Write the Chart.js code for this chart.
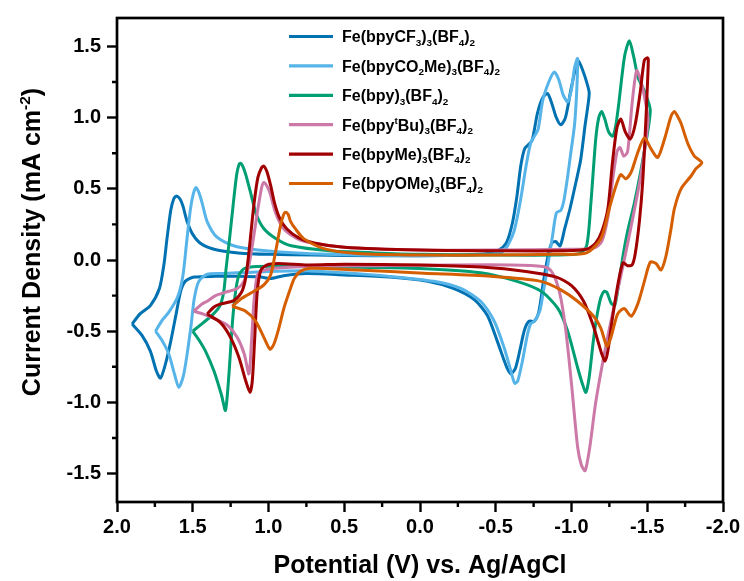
<!DOCTYPE html>
<html>
<head>
<meta charset="utf-8">
<script src="https://cdn.jsdelivr.net/npm/chart.js@4.4.1/dist/chart.umd.min.js"></script>
<style>
  html, body { margin: 0; padding: 0; background: #fff; }
  #wrap { width: 744px; height: 581px; }
</style>
</head>
<body>
<div id="wrap"><canvas id="cv" width="744" height="581"></canvas></div>
<script>
const FONT = '"Liberation Sans", Arial, Helvetica, sans-serif';

// [potential (V vs Ag/AgCl), current density (mA cm-2)]
// each loop: positive vertex -> upper branch to negative vertex -> lower branch back
const cf3 = [
  [1.90,-0.45],[1.85,-0.38],[1.78,-0.32],[1.72,-0.20],[1.69,-0.03],[1.67,0.15],[1.645,0.35],[1.625,0.43],
  [1.608,0.45],[1.585,0.43],[1.565,0.38],[1.54,0.28],[1.50,0.18],[1.44,0.11],[1.34,0.07],[1.20,0.05],
  [1.0,0.04],[0.7,0.035],[0.3,0.03],[0.0,0.03],[-0.3,0.035],[-0.45,0.045],[-0.52,0.07],[-0.57,0.12],
  [-0.61,0.26],[-0.64,0.45],[-0.665,0.66],[-0.69,0.78],[-0.715,0.81],[-0.74,0.84],[-0.775,1.03],
  [-0.81,1.14],[-0.842,1.17],[-0.87,1.10],[-0.90,1.00],[-0.93,0.95],[-0.96,1.00],[-0.995,1.19],
  [-1.025,1.34],[-1.045,1.40],[-1.075,1.33],[-1.10,1.25],[-1.117,1.17],
  [-1.09,0.95],[-1.06,0.70],[-1.03,0.55],[-0.99,0.36],[-0.955,0.22],[-0.925,0.10],[-0.895,0.13],
  [-0.87,0.12],[-0.845,0.03],[-0.815,-0.15],[-0.785,-0.36],[-0.755,-0.43],[-0.72,-0.43],[-0.69,-0.49],
  [-0.66,-0.63],[-0.63,-0.76],[-0.60,-0.80],[-0.575,-0.76],[-0.55,-0.69],[-0.51,-0.57],[-0.445,-0.39],
  [-0.36,-0.28],[-0.22,-0.20],[-0.05,-0.15],[0.2,-0.12],[0.5,-0.105],[0.75,-0.095],[0.9,-0.11],
  [0.99,-0.13],[1.05,-0.12],[1.2,-0.115],[1.35,-0.115],[1.49,-0.12],[1.55,-0.15],[1.58,-0.22],
  [1.61,-0.38],[1.645,-0.57],[1.68,-0.73],[1.713,-0.83],[1.74,-0.78],[1.78,-0.64],[1.835,-0.53],[1.90,-0.45]
];

const co2me = [
  [1.746,-0.50],[1.70,-0.42],[1.66,-0.37],[1.60,-0.26],[1.565,-0.11],[1.54,0.13],[1.515,0.36],[1.495,0.47],
  [1.478,0.51],[1.458,0.47],[1.438,0.40],[1.405,0.27],[1.34,0.16],[1.23,0.10],[1.07,0.07],[0.75,0.045],
  [0.4,0.035],[0.0,0.03],[-0.35,0.035],[-0.5,0.045],[-0.56,0.07],[-0.62,0.20],[-0.665,0.43],[-0.70,0.66],
  [-0.73,0.82],[-0.755,0.87],[-0.78,0.92],[-0.81,1.12],[-0.85,1.25],[-0.885,1.32],[-0.915,1.27],
  [-0.945,1.16],[-0.975,1.11],[-1.0,1.20],[-1.02,1.35],[-1.04,1.415],
  [-1.035,1.20],[-1.02,0.95],[-0.995,0.75],[-0.975,0.59],[-0.95,0.42],[-0.93,0.35],[-0.90,0.33],
  [-0.875,0.17],[-0.84,-0.06],[-0.81,-0.25],[-0.79,-0.36],[-0.755,-0.43],[-0.73,-0.45],[-0.71,-0.52],
  [-0.676,-0.71],[-0.645,-0.85],[-0.625,-0.866],[-0.60,-0.78],[-0.555,-0.615],[-0.49,-0.43],[-0.40,-0.29],
  [-0.27,-0.20],[-0.09,-0.15],[0.2,-0.115],[0.5,-0.09],[0.75,-0.075],[1.0,-0.08],[1.3,-0.095],[1.405,-0.10],
  [1.46,-0.15],[1.49,-0.27],[1.51,-0.45],[1.537,-0.66],[1.563,-0.82],[1.592,-0.894],[1.621,-0.80],
  [1.658,-0.66],[1.70,-0.57],[1.746,-0.50]
];

const bpy = [
  [1.50,-0.50],[1.43,-0.44],[1.365,-0.38],[1.32,-0.32],[1.295,-0.22],[1.28,-0.06],[1.255,0.17],[1.232,0.40],
  [1.21,0.60],[1.195,0.67],[1.185,0.68],[1.17,0.66],[1.15,0.60],[1.12,0.48],[1.08,0.32],[1.03,0.22],
  [0.95,0.15],[0.85,0.10],[0.6,0.065],[0.3,0.05],[0.0,0.04],[-0.5,0.035],[-0.9,0.035],[-1.05,0.045],
  [-1.10,0.10],[-1.128,0.40],[-1.16,0.85],[-1.18,1.00],[-1.199,1.044],[-1.22,0.99],[-1.245,0.90],
  [-1.271,0.87],[-1.29,0.93],[-1.31,1.08],[-1.35,1.43],[-1.382,1.54],[-1.41,1.43],[-1.44,1.28],
  [-1.48,1.19],[-1.52,1.05],
  [-1.47,0.70],[-1.415,0.40],[-1.37,0.20],[-1.34,0.03],[-1.31,-0.18],[-1.285,-0.32],[-1.26,-0.30],
  [-1.235,-0.23],[-1.216,-0.22],[-1.195,-0.26],[-1.17,-0.38],[-1.145,-0.56],[-1.117,-0.82],[-1.095,-0.93],
  [-1.075,-0.88],[-1.04,-0.755],[-0.975,-0.50],[-0.91,-0.34],[-0.80,-0.22],[-0.64,-0.15],[-0.4,-0.09],
  [0.0,-0.06],[0.5,-0.05],[0.9,-0.045],[1.074,-0.046],[1.16,-0.06],[1.195,-0.105],[1.217,-0.22],
  [1.239,-0.45],[1.261,-0.80],[1.284,-1.056],[1.31,-0.95],[1.36,-0.78],[1.416,-0.64],[1.46,-0.56],[1.50,-0.50]
];

const tbu = [
  [1.493,-0.36],[1.44,-0.31],[1.405,-0.29],[1.35,-0.25],[1.295,-0.23],[1.206,-0.20],[1.162,-0.15],
  [1.13,-0.04],[1.10,0.15],[1.07,0.36],[1.045,0.51],[1.03,0.545],[1.01,0.52],[0.99,0.47],[0.953,0.33],
  [0.90,0.22],[0.81,0.15],[0.74,0.125],[0.5,0.09],[0.0,0.07],[-0.5,0.07],[-1.0,0.075],[-1.15,0.085],
  [-1.20,0.13],[-1.24,0.30],[-1.27,0.55],[-1.30,0.76],[-1.32,0.79],[-1.345,0.73],[-1.37,0.76],
  [-1.40,1.10],[-1.43,1.33],[-1.46,1.25],[-1.49,1.10],[-1.505,0.98],
  [-1.46,0.61],[-1.40,0.27],[-1.34,-0.04],[-1.28,-0.33],[-1.22,-0.64],[-1.16,-1.00],[-1.12,-1.32],
  [-1.09,-1.48],[-1.065,-1.44],[-1.04,-1.31],[-1.0,-0.87],[-0.963,-0.50],[-0.93,-0.27],[-0.9,-0.15],
  [-0.86,-0.07],[-0.81,-0.045],[-0.6,-0.035],[-0.2,-0.035],[0.3,-0.04],[0.74,-0.045],[0.96,-0.058],
  [1.05,-0.08],[1.074,-0.11],[1.096,-0.29],[1.112,-0.57],[1.129,-0.80],[1.16,-0.66],[1.206,-0.545],
  [1.27,-0.46],[1.34,-0.42],[1.43,-0.38],[1.493,-0.36]
];

const me = [
  [1.405,-0.38],[1.36,-0.33],[1.32,-0.31],[1.23,-0.285],[1.18,-0.23],[1.155,-0.15],[1.135,0.0],
  [1.115,0.20],[1.095,0.40],[1.07,0.58],[1.045,0.65],[1.03,0.66],[1.01,0.62],[0.985,0.52],[0.96,0.40],
  [0.925,0.29],[0.88,0.22],[0.80,0.155],[0.7,0.12],[0.5,0.09],[0.0,0.07],[-0.5,0.065],[-0.95,0.065],
  [-1.10,0.075],[-1.16,0.12],[-1.20,0.20],[-1.24,0.36],[-1.27,0.68],[-1.30,0.93],[-1.326,0.99],
  [-1.355,0.90],[-1.388,0.85],[-1.42,0.95],[-1.455,1.19],[-1.48,1.40],[-1.50,1.42],[-1.507,1.41],
  [-1.50,1.20],[-1.49,0.96],[-1.47,0.55],[-1.448,0.27],[-1.42,0.04],[-1.40,-0.035],[-1.37,-0.04],
  [-1.34,-0.02],[-1.31,-0.15],[-1.27,-0.41],[-1.24,-0.64],[-1.221,-0.71],[-1.20,-0.66],[-1.18,-0.59],
  [-1.14,-0.45],[-1.08,-0.29],[-1.0,-0.18],[-0.9,-0.12],[-0.7,-0.08],[-0.4,-0.05],[0.0,-0.035],
  [0.5,-0.03],[0.74,-0.035],[0.94,-0.025],[1.01,-0.035],[1.05,-0.07],[1.074,-0.22],[1.092,-0.57],
  [1.107,-0.85],[1.122,-0.93],[1.15,-0.85],[1.195,-0.685],[1.25,-0.545],[1.317,-0.44],[1.405,-0.38]
];

const ome = [
  [1.24,-0.325],[1.173,-0.267],[1.096,-0.22],[1.03,-0.175],[0.986,-0.105],[0.953,0.06],[0.92,0.245],
  [0.90,0.32],[0.887,0.336],[0.87,0.32],[0.854,0.27],[0.823,0.22],[0.768,0.15],[0.636,0.08],
  [0.415,0.046],[0.0,0.035],[-0.5,0.035],[-0.9,0.04],[-1.1,0.05],[-1.194,0.15],[-1.249,0.36],
  [-1.293,0.52],[-1.326,0.60],[-1.359,0.57],[-1.393,0.615],[-1.437,0.754],[-1.481,0.858],[-1.525,0.78],
  [-1.569,0.72],[-1.613,0.846],[-1.657,1.01],[-1.679,1.044],[-1.70,1.01],[-1.723,0.96],[-1.767,0.82],
  [-1.811,0.73],[-1.86,0.684],
  [-1.82,0.64],[-1.789,0.59],[-1.723,0.50],[-1.679,0.36],[-1.657,0.22],[-1.624,0.03],[-1.591,-0.07],
  [-1.558,-0.025],[-1.52,-0.015],[-1.481,-0.15],[-1.437,-0.31],[-1.393,-0.395],[-1.348,-0.34],
  [-1.304,-0.38],[-1.26,-0.545],[-1.234,-0.605],[-1.194,-0.48],[-1.15,-0.40],[-1.04,-0.29],[-0.93,-0.21],
  [-0.797,-0.15],[-0.467,-0.115],[-0.026,-0.093],[0.415,-0.07],[0.724,-0.058],[0.79,-0.08],[0.83,-0.13],
  [0.854,-0.197],[0.898,-0.337],[0.931,-0.476],[0.964,-0.59],[0.99,-0.627],[1.03,-0.545],[1.085,-0.43],
  [1.151,-0.36],[1.24,-0.325]
];

const seriesData = [cf3, co2me, bpy, tbu, me, ome];
const seriesColors = ['#0072B2', '#56B4E9', '#009E73', '#CC79A7', '#A00000', '#D55E00'];

// legend text runs: [text, shift]  0 = normal, -1 = subscript, 1 = superscript
const legendLabels = [
  [['Fe(bpyCF', 0], ['3', -1], [')', 0], ['3', -1], ['(BF', 0], ['4', -1], [')', 0], ['2', -1]],
  [['Fe(bpyCO', 0], ['2', -1], ['Me)', 0], ['3', -1], ['(BF', 0], ['4', -1], [')', 0], ['2', -1]],
  [['Fe(bpy)', 0], ['3', -1], ['(BF', 0], ['4', -1], [')', 0], ['2', -1]],
  [['Fe(bpy', 0], ['t', 1], ['Bu)', 0], ['3', -1], ['(BF', 0], ['4', -1], [')', 0], ['2', -1]],
  [['Fe(bpyMe)', 0], ['3', -1], ['(BF', 0], ['4', -1], [')', 0], ['2', -1]],
  [['Fe(bpyOMe)', 0], ['3', -1], ['(BF', 0], ['4', -1], [')', 0], ['2', -1]]
];
const xTitle = [['Potential (V) vs. Ag/AgCl', 0]];
const yTitle = [['Current Density (mA cm', 0], ['-2', 1], [')', 0]];

const xTicks = [2.0, 1.75, 1.5, 1.25, 1.0, 0.75, 0.5, 0.25, 0, -0.25, -0.5, -0.75, -1.0, -1.25, -1.5, -1.75, -2.0];
const yTicks = [-1.5, -1.25, -1.0, -0.75, -0.5, -0.25, 0, 0.25, 0.5, 0.75, 1.0, 1.25, 1.5];

const isMajor = v => Math.abs(v * 2 - Math.round(v * 2)) < 1e-6;
const fmt = v => (Math.abs(v) < 1e-9 ? 0 : v).toFixed(1);

function drawRich(ctx, parts, x, y, size, align) {
  const small = size * 0.62;
  const fontFor = s => `bold ${s ? small : size}px ${FONT}`;
  let total = 0;
  parts.forEach(([t, s]) => { ctx.font = fontFor(s); total += ctx.measureText(t).width; });
  let cx = align === 'center' ? x - total / 2 : x;
  ctx.textAlign = 'left';
  ctx.textBaseline = 'alphabetic';
  parts.forEach(([t, s]) => {
    ctx.font = fontFor(s);
    const dy = s < 0 ? size * 0.22 : s > 0 ? -size * 0.42 : 0;
    ctx.fillText(t, cx, y + dy);
    cx += ctx.measureText(t).width;
  });
}

const decorations = {
  id: 'decorations',
  afterDraw(chart) {
    const { ctx, chartArea: a, scales: { x, y } } = chart;
    ctx.save();
    ctx.strokeStyle = '#000';
    ctx.fillStyle = '#000';

    // minor ticks
    ctx.lineWidth = 2.4;
    ctx.beginPath();
    xTicks.filter(v => !isMajor(v)).forEach(v => {
      const px = x.getPixelForValue(v);
      ctx.moveTo(px, a.bottom); ctx.lineTo(px, a.bottom + 5);
    });
    yTicks.filter(v => !isMajor(v)).forEach(v => {
      const py = y.getPixelForValue(v);
      ctx.moveTo(a.left, py); ctx.lineTo(a.left - 5, py);
    });
    ctx.stroke();

    // frame
    ctx.lineWidth = 2.7;
    ctx.strokeRect(a.left, a.top, a.right - a.left, a.bottom - a.top);

    // legend
    legendLabels.forEach((parts, i) => {
      const cy = 36.5 + i * 29.4;
      ctx.strokeStyle = seriesColors[i];
      ctx.lineWidth = 3.2;
      ctx.beginPath();
      ctx.moveTo(289, cy); ctx.lineTo(333, cy);
      ctx.stroke();
      ctx.fillStyle = '#000';
      drawRich(ctx, parts, 342, cy + 5.8, 16, 'left');
    });

    // axis titles
    drawRich(ctx, xTitle, (a.left + a.right) / 2, 573, 25, 'center');
    ctx.translate(31, 242);
    ctx.rotate(-Math.PI / 2);
    drawRich(ctx, yTitle, 0, 9, 25, 'center');
    ctx.restore();
  }
};

const tickFont = { family: FONT, size: 20, weight: 'bold' };

new Chart(document.getElementById('cv'), {
  type: 'scatter',
  data: {
    datasets: seriesData.map((pts, i) => ({
      data: pts.map(([v, j]) => ({ x: v, y: j })),
      showLine: true,
      borderColor: seriesColors[i],
      backgroundColor: seriesColors[i],
      borderWidth: 3,
      pointRadius: 0,
      tension: 0.25,
      fill: false,
      order: seriesData.length - i
    }))
  },
  options: {
    responsive: false,
    animation: false,
    events: [],
    layout: { padding: { top: 13, right: 21, left: 0, bottom: 0 } },
    plugins: { legend: { display: false }, tooltip: { enabled: false } },
    scales: {
      x: {
        type: 'linear',
        reverse: true,
        min: -2,
        max: 2,
        afterBuildTicks: s => { s.ticks = xTicks.map(v => ({ value: v })); },
        afterFit: s => { s.height = 79; },
        border: { display: false },
        grid: {
          drawOnChartArea: false,
          tickLength: 10,
          tickWidth: 2.4,
          tickColor: c => isMajor(c.tick.value) ? '#000' : 'rgba(0,0,0,0)'
        },
        ticks: {
          color: '#000',
          font: tickFont,
          padding: 3,
          maxRotation: 0,
          autoSkip: false,
          callback: v => isMajor(v) ? fmt(v) : ''
        }
      },
      y: {
        type: 'linear',
        min: -1.7,
        max: 1.7,
        afterBuildTicks: s => { s.ticks = yTicks.map(v => ({ value: v })); },
        afterFit: s => { s.width = 117; },
        border: { display: false },
        grid: {
          drawOnChartArea: false,
          tickLength: 10,
          tickWidth: 2.4,
          tickColor: c => isMajor(c.tick.value) ? '#000' : 'rgba(0,0,0,0)'
        },
        ticks: {
          color: '#000',
          font: tickFont,
          padding: 6,
          autoSkip: false,
          callback: v => isMajor(v) ? fmt(v) : ''
        }
      }
    }
  },
  plugins: [decorations]
});
</script>
</body>
</html>
